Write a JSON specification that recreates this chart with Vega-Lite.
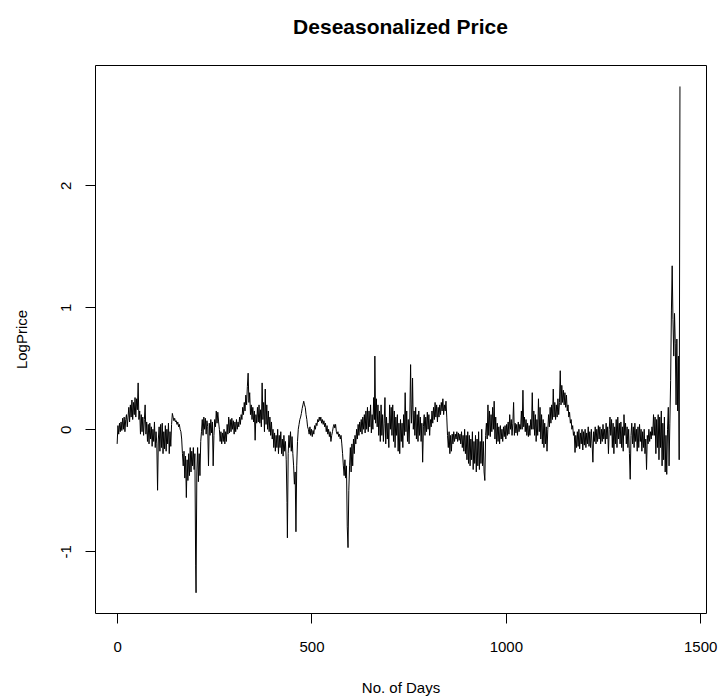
{
  "$schema": "https://vega.github.io/schema/vega-lite/v6.json",
  "width": 611,
  "height": 548,
  "autosize": "none",
  "padding": {"left": 95, "top": 65, "right": 12, "bottom": 84},
  "background": "white",
  "title": {"text": "Deseasonalized Price", "font": "Liberation Sans", "fontSize": 21, "fontWeight": "bold", "color": "black", "anchor": "middle", "offset": 27},
  "config": {
    "view": {"stroke": "black", "strokeWidth": 1},
    "axis": {"grid": false, "domain": false, "tickColor": "black", "tickSize": 10, "labelFont": "Liberation Sans", "labelFontSize": 15, "labelColor": "black", "titleFont": "Liberation Sans", "titleFontSize": 15, "titleFontWeight": "normal", "titleColor": "black"}
  },
  "data": {"values": [
{"d":0,"v":-0.12},{"d":2,"v":0.03},{"d":4,"v":-0.04},{"d":6,"v":0.05},{"d":8,"v":-0.02},{"d":10,"v":0.06},{"d":12,"v":-0.01},{"d":14,"v":0.09},{"d":16,"v":0.0},{"d":18,"v":0.1},{"d":20,"v":-0.02},{"d":22,"v":0.08},{"d":24,"v":0.12},{"d":26,"v":0.02},{"d":28,"v":0.1},{"d":30,"v":0.18},{"d":32,"v":0.06},{"d":34,"v":0.2},{"d":36,"v":0.1},{"d":38,"v":0.24},{"d":40,"v":0.08},{"d":42,"v":0.22},{"d":44,"v":0.12},{"d":46,"v":0.26},{"d":48,"v":0.1},{"d":50,"v":0.25},{"d":52,"v":0.16},{"d":54,"v":0.38},{"d":56,"v":0.08},{"d":58,"v":0.15},{"d":60,"v":-0.04},{"d":62,"v":0.12},{"d":64,"v":-0.02},{"d":66,"v":0.1},{"d":68,"v":-0.05},{"d":70,"v":0.08},{"d":72,"v":0.2},{"d":74,"v":-0.04},{"d":76,"v":0.06},{"d":78,"v":-0.1},{"d":80,"v":0.04},{"d":82,"v":-0.12},{"d":84,"v":0.05},{"d":86,"v":-0.08},{"d":88,"v":0.02},{"d":90,"v":-0.14},{"d":92,"v":0.0},{"d":94,"v":-0.1},{"d":96,"v":0.06},{"d":98,"v":-0.15},{"d":100,"v":-0.02},{"d":102,"v":-0.12},{"d":104,"v":-0.5},{"d":106,"v":-0.08},{"d":108,"v":0.02},{"d":110,"v":-0.18},{"d":112,"v":0.04},{"d":114,"v":-0.15},{"d":116,"v":0.05},{"d":118,"v":-0.2},{"d":120,"v":-0.02},{"d":122,"v":-0.16},{"d":124,"v":0.03},{"d":126,"v":-0.18},{"d":128,"v":0.0},{"d":130,"v":-0.12},{"d":132,"v":0.05},{"d":134,"v":-0.2},{"d":136,"v":-0.02},{"d":138,"v":-0.14},{"d":140,"v":0.04},{"d":142,"v":0.13},{"d":144,"v":0.1},{"d":146,"v":0.07},{"d":148,"v":0.09},{"d":150,"v":0.06},{"d":152,"v":0.07},{"d":154,"v":0.04},{"d":156,"v":0.06},{"d":158,"v":0.02},{"d":160,"v":0.04},{"d":162,"v":0.0},{"d":164,"v":-0.02},{"d":166,"v":-0.08},{"d":168,"v":-0.2},{"d":170,"v":-0.3},{"d":172,"v":-0.18},{"d":174,"v":-0.4},{"d":176,"v":-0.22},{"d":178,"v":-0.56},{"d":180,"v":-0.25},{"d":182,"v":-0.42},{"d":184,"v":-0.2},{"d":186,"v":-0.38},{"d":188,"v":-0.15},{"d":190,"v":-0.35},{"d":192,"v":-0.18},{"d":194,"v":-0.3},{"d":196,"v":-0.15},{"d":198,"v":-0.33},{"d":200,"v":-0.2},{"d":202,"v":-1.12},{"d":203,"v":-1.34},{"d":205,"v":-0.35},{"d":207,"v":-0.15},{"d":209,"v":-0.43},{"d":211,"v":-0.2},{"d":213,"v":-0.38},{"d":215,"v":-0.1},{"d":217,"v":-0.02},{"d":219,"v":0.08},{"d":221,"v":-0.05},{"d":223,"v":0.1},{"d":225,"v":0.0},{"d":227,"v":0.09},{"d":229,"v":-0.04},{"d":231,"v":0.07},{"d":233,"v":0.02},{"d":235,"v":-0.3},{"d":237,"v":0.05},{"d":239,"v":-0.05},{"d":241,"v":0.08},{"d":243,"v":-0.03},{"d":245,"v":0.06},{"d":247,"v":-0.3},{"d":249,"v":-0.05},{"d":251,"v":0.08},{"d":253,"v":0.02},{"d":255,"v":0.15},{"d":257,"v":0.05},{"d":259,"v":0.14},{"d":261,"v":0.06},{"d":263,"v":0.0},{"d":265,"v":-0.1},{"d":267,"v":-0.02},{"d":269,"v":-0.12},{"d":271,"v":-0.03},{"d":273,"v":-0.1},{"d":275,"v":0.0},{"d":277,"v":-0.12},{"d":279,"v":-0.02},{"d":281,"v":-0.1},{"d":283,"v":0.04},{"d":285,"v":-0.04},{"d":287,"v":0.1},{"d":289,"v":-0.03},{"d":291,"v":0.08},{"d":293,"v":-0.02},{"d":295,"v":0.09},{"d":297,"v":0.0},{"d":299,"v":0.07},{"d":301,"v":-0.04},{"d":303,"v":0.06},{"d":305,"v":-0.02},{"d":307,"v":0.08},{"d":309,"v":0.0},{"d":311,"v":0.06},{"d":313,"v":0.02},{"d":315,"v":0.1},{"d":317,"v":0.04},{"d":319,"v":0.12},{"d":321,"v":0.08},{"d":323,"v":0.18},{"d":325,"v":0.12},{"d":327,"v":0.22},{"d":329,"v":0.15},{"d":331,"v":0.28},{"d":333,"v":0.2},{"d":335,"v":0.35},{"d":337,"v":0.46},{"d":339,"v":0.22},{"d":341,"v":0.3},{"d":343,"v":0.12},{"d":345,"v":0.2},{"d":347,"v":0.08},{"d":349,"v":0.18},{"d":351,"v":0.06},{"d":353,"v":0.15},{"d":355,"v":-0.09},{"d":357,"v":0.12},{"d":359,"v":0.05},{"d":361,"v":0.18},{"d":363,"v":0.06},{"d":365,"v":0.2},{"d":367,"v":0.05},{"d":369,"v":0.16},{"d":371,"v":0.02},{"d":373,"v":0.38},{"d":375,"v":0.08},{"d":377,"v":0.22},{"d":379,"v":-0.02},{"d":381,"v":0.33},{"d":383,"v":0.04},{"d":385,"v":0.2},{"d":387,"v":0.0},{"d":389,"v":0.15},{"d":391,"v":-0.02},{"d":393,"v":0.1},{"d":395,"v":-0.05},{"d":397,"v":0.06},{"d":399,"v":-0.08},{"d":401,"v":0.0},{"d":403,"v":-0.15},{"d":405,"v":-0.03},{"d":407,"v":-0.18},{"d":409,"v":-0.05},{"d":411,"v":-0.15},{"d":413,"v":0.0},{"d":415,"v":-0.2},{"d":417,"v":-0.05},{"d":419,"v":-0.15},{"d":421,"v":-0.02},{"d":423,"v":-0.2},{"d":425,"v":-0.08},{"d":427,"v":-0.22},{"d":429,"v":-0.05},{"d":431,"v":-0.18},{"d":433,"v":-0.1},{"d":435,"v":-0.25},{"d":437,"v":-0.6},{"d":438,"v":-0.89},{"d":440,"v":-0.2},{"d":442,"v":-0.05},{"d":444,"v":-0.15},{"d":446,"v":-0.02},{"d":448,"v":-0.18},{"d":450,"v":-0.06},{"d":452,"v":-0.2},{"d":454,"v":-0.3},{"d":456,"v":-0.45},{"d":458,"v":-0.35},{"d":460,"v":-0.84},{"d":462,"v":-0.3},{"d":464,"v":-0.1},{"d":466,"v":0.0},{"d":468,"v":0.04},{"d":470,"v":0.08},{"d":472,"v":0.1},{"d":474,"v":0.13},{"d":476,"v":0.17},{"d":478,"v":0.2},{"d":480,"v":0.23},{"d":482,"v":0.2},{"d":484,"v":0.18},{"d":486,"v":0.12},{"d":488,"v":0.08},{"d":490,"v":0.02},{"d":492,"v":0.0},{"d":494,"v":-0.04},{"d":496,"v":0.02},{"d":498,"v":-0.05},{"d":500,"v":0.0},{"d":502,"v":-0.06},{"d":504,"v":-0.01},{"d":506,"v":-0.04},{"d":508,"v":0.03},{"d":510,"v":0.0},{"d":512,"v":0.05},{"d":514,"v":0.03},{"d":516,"v":0.08},{"d":518,"v":0.06},{"d":520,"v":0.1},{"d":522,"v":0.07},{"d":524,"v":0.1},{"d":526,"v":0.05},{"d":528,"v":0.08},{"d":530,"v":0.04},{"d":532,"v":0.07},{"d":534,"v":0.02},{"d":536,"v":0.05},{"d":538,"v":-0.02},{"d":540,"v":0.03},{"d":542,"v":-0.04},{"d":544,"v":0.0},{"d":546,"v":-0.06},{"d":548,"v":-0.02},{"d":550,"v":-0.1},{"d":552,"v":-0.05},{"d":554,"v":-0.02},{"d":556,"v":0.02},{"d":558,"v":0.04},{"d":560,"v":0.01},{"d":562,"v":0.04},{"d":564,"v":-0.02},{"d":566,"v":-0.04},{"d":568,"v":-0.02},{"d":570,"v":-0.06},{"d":572,"v":-0.04},{"d":574,"v":-0.08},{"d":576,"v":-0.05},{"d":578,"v":-0.12},{"d":580,"v":-0.2},{"d":582,"v":-0.3},{"d":584,"v":-0.38},{"d":586,"v":-0.25},{"d":588,"v":-0.4},{"d":590,"v":-0.3},{"d":592,"v":-0.8},{"d":594,"v":-0.97},{"d":596,"v":-0.5},{"d":598,"v":-0.3},{"d":600,"v":-0.15},{"d":602,"v":-0.35},{"d":604,"v":-0.12},{"d":606,"v":-0.3},{"d":608,"v":-0.08},{"d":610,"v":-0.2},{"d":612,"v":-0.05},{"d":614,"v":-0.12},{"d":616,"v":0.0},{"d":618,"v":-0.08},{"d":620,"v":0.04},{"d":622,"v":-0.05},{"d":624,"v":0.06},{"d":626,"v":-0.02},{"d":628,"v":0.08},{"d":630,"v":-0.04},{"d":632,"v":0.1},{"d":634,"v":0.0},{"d":636,"v":0.12},{"d":638,"v":-0.03},{"d":640,"v":0.15},{"d":642,"v":0.0},{"d":644,"v":0.18},{"d":646,"v":-0.02},{"d":648,"v":0.15},{"d":650,"v":0.02},{"d":652,"v":0.2},{"d":654,"v":-0.03},{"d":656,"v":0.12},{"d":658,"v":0.0},{"d":660,"v":0.26},{"d":662,"v":0.08},{"d":663,"v":0.6},{"d":665,"v":0.05},{"d":667,"v":0.25},{"d":669,"v":0.02},{"d":671,"v":0.2},{"d":673,"v":-0.05},{"d":675,"v":0.15},{"d":677,"v":-0.1},{"d":679,"v":0.2},{"d":681,"v":-0.05},{"d":683,"v":0.12},{"d":685,"v":-0.1},{"d":687,"v":0.05},{"d":689,"v":0.26},{"d":691,"v":-0.12},{"d":693,"v":0.1},{"d":695,"v":-0.08},{"d":697,"v":0.05},{"d":699,"v":-0.15},{"d":701,"v":0.2},{"d":703,"v":0.0},{"d":705,"v":0.18},{"d":707,"v":-0.05},{"d":709,"v":0.2},{"d":711,"v":-0.1},{"d":713,"v":0.15},{"d":715,"v":-0.15},{"d":717,"v":0.1},{"d":719,"v":-0.05},{"d":721,"v":0.12},{"d":723,"v":-0.18},{"d":725,"v":0.05},{"d":727,"v":-0.2},{"d":729,"v":0.08},{"d":731,"v":-0.1},{"d":733,"v":0.05},{"d":735,"v":-0.15},{"d":737,"v":0.12},{"d":739,"v":-0.05},{"d":741,"v":0.3},{"d":743,"v":-0.02},{"d":745,"v":0.15},{"d":747,"v":-0.1},{"d":749,"v":0.08},{"d":751,"v":-0.12},{"d":753,"v":0.1},{"d":755,"v":0.53},{"d":757,"v":0.05},{"d":759,"v":0.2},{"d":760,"v":0.42},{"d":762,"v":0.0},{"d":764,"v":0.15},{"d":766,"v":-0.05},{"d":768,"v":0.18},{"d":770,"v":-0.08},{"d":772,"v":0.12},{"d":774,"v":-0.1},{"d":776,"v":0.15},{"d":778,"v":-0.05},{"d":780,"v":0.1},{"d":782,"v":-0.1},{"d":784,"v":0.05},{"d":786,"v":-0.27},{"d":788,"v":0.02},{"d":790,"v":0.12},{"d":792,"v":-0.05},{"d":794,"v":0.1},{"d":796,"v":-0.02},{"d":798,"v":0.14},{"d":800,"v":0.0},{"d":802,"v":0.12},{"d":804,"v":-0.05},{"d":806,"v":0.08},{"d":808,"v":0.02},{"d":810,"v":0.15},{"d":812,"v":0.05},{"d":814,"v":0.18},{"d":816,"v":0.08},{"d":818,"v":0.22},{"d":820,"v":0.1},{"d":822,"v":0.2},{"d":824,"v":0.06},{"d":826,"v":0.18},{"d":828,"v":0.1},{"d":830,"v":0.2},{"d":832,"v":0.12},{"d":834,"v":0.22},{"d":836,"v":0.15},{"d":838,"v":0.25},{"d":840,"v":0.12},{"d":842,"v":0.2},{"d":844,"v":0.15},{"d":846,"v":0.23},{"d":848,"v":0.1},{"d":850,"v":-0.05},{"d":852,"v":-0.15},{"d":854,"v":-0.02},{"d":856,"v":-0.2},{"d":858,"v":-0.05},{"d":860,"v":-0.18},{"d":862,"v":-0.04},{"d":864,"v":-0.12},{"d":866,"v":-0.02},{"d":868,"v":-0.1},{"d":870,"v":-0.04},{"d":872,"v":-0.08},{"d":874,"v":-0.02},{"d":876,"v":-0.1},{"d":878,"v":-0.03},{"d":880,"v":-0.09},{"d":882,"v":-0.04},{"d":884,"v":-0.12},{"d":886,"v":-0.02},{"d":888,"v":-0.15},{"d":890,"v":-0.05},{"d":892,"v":-0.18},{"d":894,"v":0.0},{"d":896,"v":-0.2},{"d":898,"v":-0.05},{"d":900,"v":-0.25},{"d":902,"v":-0.02},{"d":904,"v":-0.28},{"d":906,"v":-0.05},{"d":908,"v":-0.3},{"d":910,"v":-0.08},{"d":912,"v":-0.25},{"d":914,"v":-0.02},{"d":916,"v":-0.33},{"d":918,"v":-0.1},{"d":920,"v":-0.28},{"d":922,"v":-0.05},{"d":924,"v":-0.35},{"d":926,"v":-0.08},{"d":928,"v":-0.3},{"d":930,"v":-0.02},{"d":932,"v":-0.33},{"d":934,"v":-0.1},{"d":936,"v":-0.28},{"d":938,"v":0.0},{"d":940,"v":-0.3},{"d":942,"v":-0.1},{"d":944,"v":-0.35},{"d":946,"v":-0.42},{"d":948,"v":-0.05},{"d":950,"v":0.05},{"d":952,"v":-0.08},{"d":954,"v":0.2},{"d":956,"v":-0.05},{"d":958,"v":0.15},{"d":960,"v":-0.06},{"d":962,"v":0.12},{"d":964,"v":-0.02},{"d":966,"v":0.18},{"d":968,"v":0.0},{"d":970,"v":0.23},{"d":972,"v":-0.08},{"d":974,"v":0.1},{"d":976,"v":-0.12},{"d":978,"v":0.05},{"d":980,"v":-0.1},{"d":982,"v":0.02},{"d":984,"v":-0.12},{"d":986,"v":0.03},{"d":988,"v":-0.08},{"d":990,"v":0.0},{"d":992,"v":-0.1},{"d":994,"v":0.02},{"d":996,"v":-0.06},{"d":998,"v":0.03},{"d":1000,"v":-0.08},{"d":1002,"v":0.04},{"d":1004,"v":-0.05},{"d":1006,"v":0.06},{"d":1008,"v":-0.04},{"d":1010,"v":0.12},{"d":1012,"v":0.0},{"d":1014,"v":0.08},{"d":1016,"v":-0.05},{"d":1018,"v":0.05},{"d":1020,"v":0.22},{"d":1022,"v":-0.05},{"d":1024,"v":0.05},{"d":1026,"v":-0.03},{"d":1028,"v":0.04},{"d":1030,"v":-0.05},{"d":1032,"v":0.06},{"d":1034,"v":-0.02},{"d":1036,"v":0.04},{"d":1038,"v":0.0},{"d":1040,"v":0.15},{"d":1042,"v":0.0},{"d":1044,"v":0.32},{"d":1046,"v":0.02},{"d":1048,"v":0.1},{"d":1050,"v":-0.02},{"d":1052,"v":0.08},{"d":1054,"v":-0.05},{"d":1056,"v":0.05},{"d":1058,"v":-0.06},{"d":1060,"v":0.03},{"d":1062,"v":-0.05},{"d":1064,"v":0.08},{"d":1066,"v":0.0},{"d":1068,"v":0.3},{"d":1070,"v":0.0},{"d":1072,"v":0.15},{"d":1074,"v":-0.05},{"d":1076,"v":0.12},{"d":1078,"v":-0.1},{"d":1080,"v":0.08},{"d":1082,"v":-0.05},{"d":1084,"v":0.25},{"d":1086,"v":-0.02},{"d":1088,"v":0.18},{"d":1090,"v":-0.08},{"d":1092,"v":0.12},{"d":1094,"v":-0.12},{"d":1096,"v":0.08},{"d":1098,"v":-0.15},{"d":1100,"v":0.05},{"d":1102,"v":-0.12},{"d":1104,"v":0.02},{"d":1106,"v":-0.18},{"d":1108,"v":0.0},{"d":1110,"v":0.12},{"d":1112,"v":0.02},{"d":1114,"v":0.18},{"d":1116,"v":0.05},{"d":1118,"v":0.2},{"d":1120,"v":0.08},{"d":1122,"v":0.33},{"d":1124,"v":0.1},{"d":1126,"v":0.22},{"d":1128,"v":0.08},{"d":1130,"v":0.2},{"d":1132,"v":0.1},{"d":1134,"v":0.25},{"d":1136,"v":0.12},{"d":1138,"v":0.22},{"d":1140,"v":0.48},{"d":1142,"v":0.2},{"d":1144,"v":0.36},{"d":1146,"v":0.22},{"d":1148,"v":0.32},{"d":1150,"v":0.2},{"d":1152,"v":0.3},{"d":1154,"v":0.18},{"d":1156,"v":0.28},{"d":1158,"v":0.15},{"d":1160,"v":0.2},{"d":1162,"v":0.1},{"d":1164,"v":0.14},{"d":1166,"v":0.05},{"d":1168,"v":0.08},{"d":1170,"v":0.0},{"d":1172,"v":0.03},{"d":1174,"v":-0.05},{"d":1176,"v":-0.02},{"d":1178,"v":-0.19},{"d":1180,"v":-0.05},{"d":1182,"v":-0.15},{"d":1184,"v":-0.02},{"d":1186,"v":-0.14},{"d":1188,"v":0.0},{"d":1190,"v":-0.16},{"d":1192,"v":-0.03},{"d":1194,"v":-0.12},{"d":1196,"v":0.0},{"d":1198,"v":-0.17},{"d":1200,"v":-0.02},{"d":1202,"v":-0.13},{"d":1204,"v":0.0},{"d":1206,"v":-0.15},{"d":1208,"v":-0.03},{"d":1210,"v":-0.12},{"d":1212,"v":0.02},{"d":1214,"v":-0.14},{"d":1216,"v":-0.02},{"d":1218,"v":-0.15},{"d":1220,"v":0.0},{"d":1222,"v":-0.12},{"d":1224,"v":-0.27},{"d":1226,"v":-0.02},{"d":1228,"v":-0.1},{"d":1230,"v":0.02},{"d":1232,"v":-0.12},{"d":1234,"v":0.0},{"d":1236,"v":-0.1},{"d":1238,"v":0.03},{"d":1240,"v":-0.08},{"d":1242,"v":0.02},{"d":1244,"v":-0.12},{"d":1246,"v":0.0},{"d":1248,"v":-0.1},{"d":1250,"v":0.04},{"d":1252,"v":-0.08},{"d":1254,"v":0.0},{"d":1256,"v":-0.12},{"d":1258,"v":0.05},{"d":1260,"v":-0.08},{"d":1262,"v":0.02},{"d":1264,"v":-0.2},{"d":1266,"v":0.0},{"d":1268,"v":0.1},{"d":1270,"v":-0.05},{"d":1272,"v":0.08},{"d":1274,"v":-0.15},{"d":1276,"v":0.05},{"d":1278,"v":-0.2},{"d":1280,"v":0.02},{"d":1282,"v":-0.12},{"d":1284,"v":0.08},{"d":1286,"v":-0.15},{"d":1288,"v":0.1},{"d":1290,"v":-0.08},{"d":1292,"v":0.05},{"d":1294,"v":-0.12},{"d":1296,"v":0.06},{"d":1298,"v":-0.15},{"d":1300,"v":0.02},{"d":1302,"v":-0.18},{"d":1304,"v":0.12},{"d":1306,"v":-0.05},{"d":1308,"v":0.05},{"d":1310,"v":-0.12},{"d":1312,"v":0.02},{"d":1314,"v":-0.15},{"d":1316,"v":0.0},{"d":1318,"v":-0.2},{"d":1320,"v":-0.41},{"d":1322,"v":-0.05},{"d":1324,"v":0.05},{"d":1326,"v":-0.12},{"d":1328,"v":0.02},{"d":1330,"v":-0.15},{"d":1332,"v":0.05},{"d":1334,"v":-0.1},{"d":1336,"v":0.0},{"d":1338,"v":-0.18},{"d":1340,"v":0.02},{"d":1342,"v":-0.15},{"d":1344,"v":0.04},{"d":1346,"v":-0.1},{"d":1348,"v":0.0},{"d":1350,"v":-0.18},{"d":1352,"v":-0.02},{"d":1354,"v":-0.15},{"d":1356,"v":0.0},{"d":1358,"v":-0.2},{"d":1360,"v":-0.08},{"d":1362,"v":-0.33},{"d":1364,"v":-0.05},{"d":1366,"v":-0.12},{"d":1368,"v":0.0},{"d":1370,"v":-0.1},{"d":1372,"v":-0.02},{"d":1374,"v":-0.08},{"d":1376,"v":0.02},{"d":1378,"v":-0.05},{"d":1380,"v":0.12},{"d":1382,"v":-0.05},{"d":1384,"v":0.1},{"d":1386,"v":-0.2},{"d":1388,"v":0.08},{"d":1390,"v":-0.15},{"d":1392,"v":0.12},{"d":1394,"v":-0.25},{"d":1396,"v":0.1},{"d":1398,"v":-0.15},{"d":1400,"v":0.15},{"d":1402,"v":-0.3},{"d":1404,"v":0.05},{"d":1406,"v":-0.25},{"d":1408,"v":0.1},{"d":1410,"v":-0.35},{"d":1412,"v":-0.05},{"d":1414,"v":-0.37},{"d":1416,"v":0.0},{"d":1418,"v":0.18},{"d":1420,"v":-0.3},{"d":1422,"v":0.05},{"d":1424,"v":0.4},{"d":1426,"v":0.97},{"d":1428,"v":1.34},{"d":1430,"v":0.9},{"d":1432,"v":0.6},{"d":1434,"v":0.95},{"d":1436,"v":0.7},{"d":1438,"v":0.2},{"d":1440,"v":0.74},{"d":1442,"v":0.15},{"d":1444,"v":0.6},{"d":1446,"v":-0.25},{"d":1448,"v":2.81}
  ]},
  "mark": {"type": "line", "color": "black", "strokeWidth": 1, "clip": true},
  "encoding": {
    "x": {"field": "d", "type": "quantitative", "scale": {"domain": [-57, 1515], "nice": false, "zero": false},
      "axis": {"values": [0, 500, 1000, 1500], "format": "d", "title": "No. of Days", "labelPadding": 16, "titlePadding": 26, "labelFlush": false}},
    "y": {"field": "v", "type": "quantitative", "scale": {"domain": [-1.506, 2.986], "nice": false, "zero": false},
      "axis": {"values": [-1, 0, 1, 2], "labelExpr": "'' + datum.value", "title": "LogPrice", "labelAngle": 270, "labelAlign": "center", "labelBaseline": "bottom", "labelPadding": 12, "titlePadding": 29, "labelFlush": false}}
  }
}
